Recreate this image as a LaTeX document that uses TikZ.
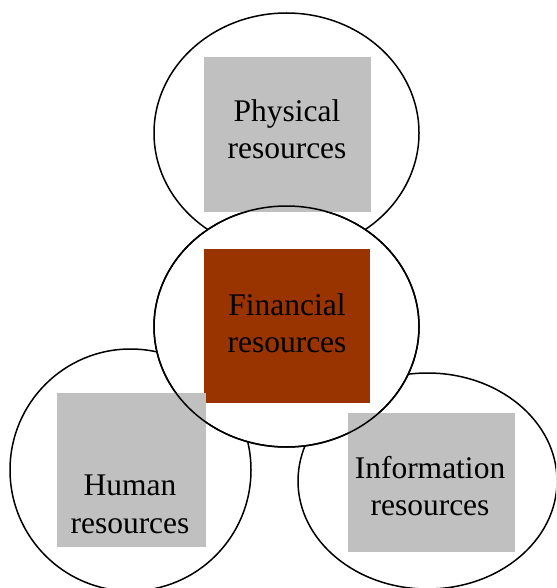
\documentclass[tikz,border=0pt]{standalone}
\usepackage{fontspec}
\setmainfont{Liberation Serif}
\usetikzlibrary{shapes.geometric}
\definecolor{boxgrey}{RGB}{192,192,192}
\definecolor{brownbox}{RGB}{153,51,0}
\tikzset{
  oval/.style={ellipse, draw=black, line width=1.5pt, fill=white, inner sep=0pt},
  ovaloutline/.style={ellipse, draw=black, line width=1.5pt, inner sep=0pt},
  resbox/.style={rectangle, draw=none, inner sep=0pt},
  lbl/.style={anchor=base, inner sep=0pt, font=\fontsize{31.5pt}{37pt}\selectfont}
}
\begin{document}
\begin{tikzpicture}[x=1pt,y=-1pt]
\useasboundingbox (0,0) rectangle (556,588);
\clip (0,0) rectangle (556,588);
% outer ovals
\node[oval, minimum width=265pt, minimum height=240pt] (otop) at (286.5,133) {};
\node[oval, minimum width=241pt, minimum height=242pt] (obl) at (130.5,470) {};
\node[oval, minimum width=259pt, minimum height=216pt] (obr) at (427.5,481) {};
% middle oval
\node[oval, minimum width=265pt, minimum height=241pt] (omid) at (286.5,326.5) {};
% boxes
\node[resbox, fill=boxgrey, minimum width=167pt, minimum height=155pt] (bphys) at (287.5,134.5) {};
\node[resbox, fill=brownbox, minimum width=166pt, minimum height=154pt] (bfin) at (287,326) {};
\node[resbox, fill=boxgrey, minimum width=149pt, minimum height=154pt] (bhum) at (131.5,470) {};
\node[resbox, fill=boxgrey, minimum width=167pt, minimum height=139pt] (binfo) at (431.5,482.5) {};
% middle oval outline on top
\node[ovaloutline, minimum width=265pt, minimum height=241pt] (omidline) at (286.5,326.5) {};
% labels
\node[lbl] (tphys1) at (287,122) {Physical};
\node[lbl] (tphys2) at (287,159) {resources};
\node[lbl] (tfin1) at (287,315) {Financial};
\node[lbl] (tfin2) at (287,352) {resources};
\node[lbl] (thum1) at (130,495) {Human};
\node[lbl] (thum2) at (130,533) {resources};
\node[lbl] (tinfo1) at (430,478) {Information};
\node[lbl] (tinfo2) at (430,515) {resources};
\end{tikzpicture}
\end{document}
